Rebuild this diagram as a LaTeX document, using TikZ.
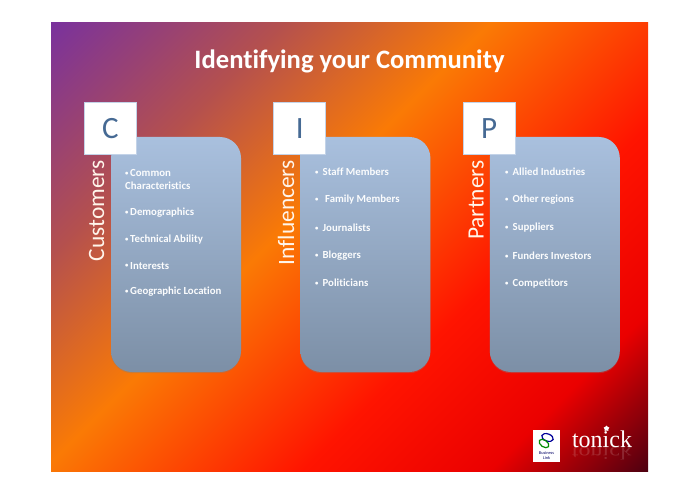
\documentclass[tikz,border=0pt]{standalone}
\usepackage{fontspec}
\setmainfont[Ligatures=CommonOff]{Carlito}
\newfontfamily\logofont{Liberation Serif}
\usepackage{graphicx}
\usetikzlibrary{positioning,shadows,shapes.geometric}

\definecolor{bgpurple}{HTML}{7A329C}
\definecolor{bgrose}{HTML}{B4504E}
\definecolor{bgorange}{HTML}{FA7A05}
\definecolor{bgred}{HTML}{FF1400}
\definecolor{bgdark}{HTML}{500010}
\definecolor{cardtop}{HTML}{A9C0DE}
\definecolor{cardbottom}{HTML}{7C8FA6}
\definecolor{letterblue}{HTML}{466A94}
\pgfdeclarehorizontalshading{slidefill}{100bp}{
  color(0bp)=(bgpurple); color(25bp)=(bgpurple); color(36bp)=(bgrose);
  color(46bp)=(bgorange); color(58.5bp)=(bgred); color(67.5bp)=(red!92!black);
  color(75bp)=(bgdark); color(100bp)=(bgdark)}
\newcommand{\itemdot}{\makebox[5pt][l]{\raisebox{1.1pt}{\scalebox{.62}{•}}}}

\tikzset{
  card/.style={rounded corners=21pt, minimum width=130pt, minimum height=235pt,
    top color=cardtop, bottom color=cardbottom,
    drop shadow={opacity=.35, shadow xshift=0pt, shadow yshift=-1.2pt}},
  letterbox/.style={draw=cardtop!70!white, line width=1pt, fill=white, minimum size=52pt,
    text=letterblue, font=\fontsize{31}{31}\selectfont},
  sidelabel/.style={rotate=90, anchor=base east, inner sep=0pt, text=white!92!orange,
    font=\fontsize{23.4}{23.4}\selectfont},
  listitem/.style={anchor=west, inner sep=0pt, text=white!95!cardtop, align=left,
    font=\bfseries\fontsize{10.8}{13}\selectfont}
}

\begin{document}
\begin{tikzpicture}[x=1pt,y=-1pt]
  \useasboundingbox (0,0) rectangle (700,494);
  \fill[white] (0,0) rectangle (700,494);

  \begin{scope}
    \clip (51,23) rectangle (648,471);
    \shade[shading=slidefill, shading angle=-45] (349.5-369.5,247-369.5) rectangle (349.5+369.5,247+369.5);
  \end{scope}

  \node[text=white, font=\bfseries\fontsize{26.6}{26.6}\selectfont] (title) at (349.5,61) {Identifying your Community};

  % cards
  \node[card] (cardC) at (176,254.5) {};
  \node[card, right=59pt of cardC] (cardI) {};
  \node[card, right=59pt of cardI] (cardP) {};

  % letter boxes
  \node[letterbox, anchor=south east] (letterC) at ([shift={(26pt,-18pt)}]cardC.north west) {C};
  \node[letterbox, anchor=south east] (letterI) at ([shift={(26pt,-18pt)}]cardI.north west) {I};
  \node[letterbox, anchor=south east] (letterP) at ([shift={(26pt,-18pt)}]cardP.north west) {P};

  \node[sidelabel] (labelC) at (104,160) {Customers};
  \node[sidelabel] (labelI) at (294,160) {Influencers};
  \node[sidelabel] (labelP) at (483.5,160) {Partners};

  % customers
  \node[listitem] (c1) at (125,179.5) {\itemdot Common\\Characteristics};
  \node[listitem, below=33.5pt of c1.west, anchor=west] (c2) {\itemdot Demographics};
  \node[listitem, below=26.3pt of c2.west, anchor=west] (c3) {\itemdot Technical Ability};
  \node[listitem, below=26.3pt of c3.west, anchor=west] (c4) {\itemdot Interests};
  \node[listitem, below=26.3pt of c4.west, anchor=west] (c5) {\itemdot Geographic Location};

  % influencers
  \node[listitem] (i1) at (315,172) {\itemdot\ Staff Members};
  \node[listitem, below=27.8pt of i1.west, anchor=west] (i2) {\itemdot\ \ Family Members};
  \node[listitem, below=27.8pt of i2.west, anchor=west] (i3) {\itemdot\ Journalists};
  \node[listitem, below=27.8pt of i3.west, anchor=west] (i4) {\itemdot\ Bloggers};
  \node[listitem, below=27.8pt of i4.west, anchor=west] (i5) {\itemdot\ Politicians};

  % partners
  \node[listitem] (p1) at (505,172) {\itemdot\ Allied Industries};
  \node[listitem, below=27.8pt of p1.west, anchor=west] (p2) {\itemdot\ Other regions};
  \node[listitem, below=27.8pt of p2.west, anchor=west] (p3) {\itemdot\ Suppliers};
  \node[listitem, below=27.8pt of p3.west, anchor=west] (p4) {\itemdot\ Funders Investors};
  \node[listitem, below=27.8pt of p4.west, anchor=west] (p5) {\itemdot\ Competitors};

  % logos
  \fill[white] (533,430) rectangle (560,462);
  \draw[blue!60!black, line width=1.2pt, rotate around={-20:(547.5,437.5)}] (547.5,437.5) ellipse (6pt and 3.6pt);
  \draw[green!55!black, line width=1.2pt, rotate around={-35:(544,443.5)}] (544,443.5) ellipse (5.5pt and 3.4pt);
  \node[inner sep=0pt, align=center, text=blue!40!black, font=\fontsize{4.3}{4.8}\selectfont] (bizlink) at (546.5,455.5) {Business\\Link};
  \node[inner sep=0pt, anchor=base, text=white, font=\logofont\fontsize{24}{24}\selectfont] (tonick) at (602,447) {tonick};
  \node[inner sep=0pt, anchor=north, opacity=.15, text=white, font=\logofont\fontsize{24}{24}\selectfont] (tonickflip) at (602,447.5) {\scalebox{1}[-.75]{tonick}};
  \node[star, star points=5, fill=white, inner sep=0pt, minimum size=6pt] (tonickstar) at (606.5,428.5) {};
\end{tikzpicture}
\end{document}
